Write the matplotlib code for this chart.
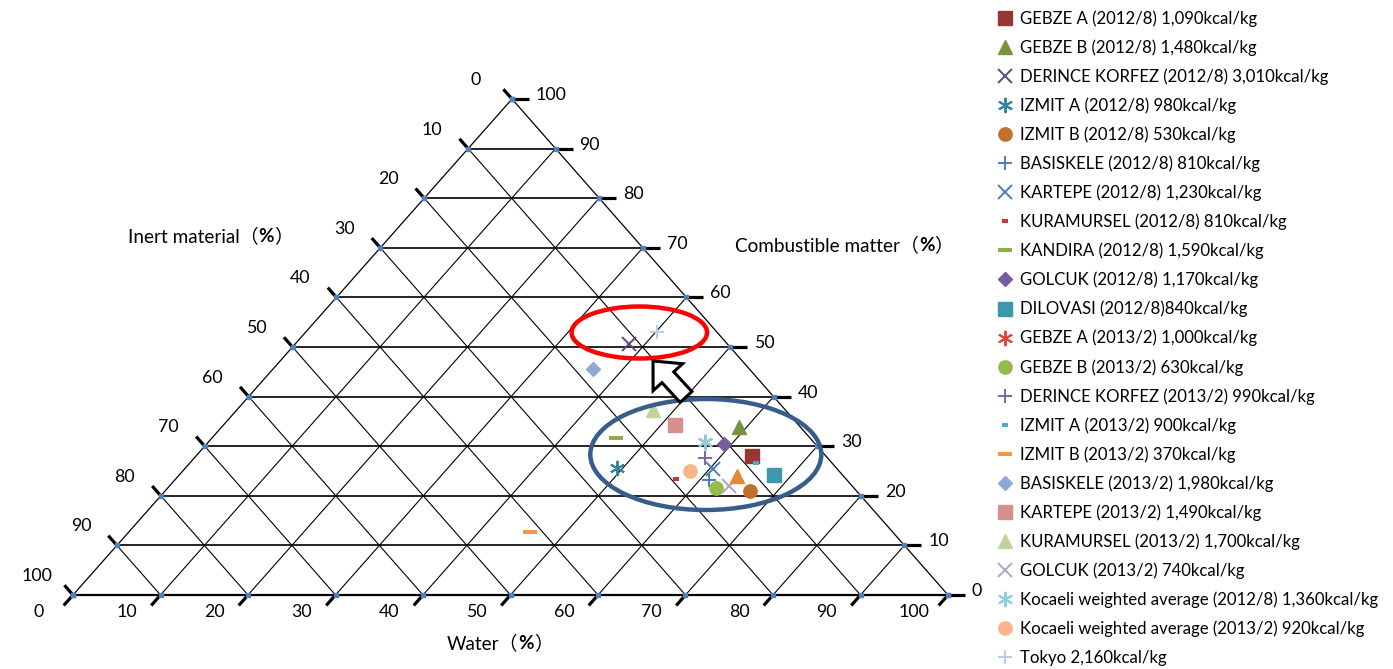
import matplotlib
matplotlib.use('Agg')
import matplotlib.pyplot as plt
from matplotlib.patches import Ellipse, FancyArrow
import numpy as np

plt.rcParams['font.family'] = ['Lato', 'Noto Sans CJK JP', 'DejaVu Sans']

# ---------------- data (percent) ----------------
series_labels = [
    'GEBZE A (2012/8) 1,090kcal/kg',
    'GEBZE B (2012/8) 1,480kcal/kg',
    'DERINCE KORFEZ (2012/8) 3,010kcal/kg',
    'IZMIT A (2012/8) 980kcal/kg',
    'IZMIT B (2012/8) 530kcal/kg',
    'BASISKELE (2012/8) 810kcal/kg',
    'KARTEPE (2012/8) 1,230kcal/kg',
    'KURAMURSEL (2012/8) 810kcal/kg',
    'KANDIRA (2012/8) 1,590kcal/kg',
    'GOLCUK (2012/8) 1,170kcal/kg',
    'DILOVASI (2012/8)840kcal/kg',
    'GEBZE A (2013/2) 1,000kcal/kg',
    'GEBZE B (2013/2) 630kcal/kg',
    'DERINCE KORFEZ (2013/2) 990kcal/kg',
    'IZMIT A (2013/2) 900kcal/kg',
    'IZMIT B (2013/2) 370kcal/kg',
    'BASISKELE (2013/2) 1,980kcal/kg',
    'KARTEPE (2013/2) 1,490kcal/kg',
    'KURAMURSEL (2013/2) 1,700kcal/kg',
    'GOLCUK (2013/2) 740kcal/kg',
    'Kocaeli weighted average (2012/8) 1,360kcal/kg',
    'Kocaeli weighted average (2013/2) 920kcal/kg',
    'Tokyo 2,160kcal/kg',
]
water       = [63.6, 59.2, 38.1, 49.3, 66.8, 61.0, 60.4, 57.2, 46.1, 59.1, 68.0,
               56.7, 62.7, 58.4, 64.7, 45.8, 36.5, 51.6, 47.6, 63.9, 56.7, 58.0, 40.1]
inert       = [ 8.4,  7.0, 11.2, 25.0, 12.2, 15.8, 14.1, 19.4, 22.2, 10.5,  7.9,
               12.4, 15.8, 14.0,  8.6, 41.4, 17.9, 14.1, 15.2, 14.1, 12.4, 17.0,  6.9]
combustible = [28.0, 33.8, 50.7, 25.7, 21.0, 23.2, 25.5, 23.4, 31.7, 30.4, 24.1,
               30.9, 21.5, 27.6, 26.7, 12.8, 45.6, 34.3, 37.2, 22.0, 30.9, 25.0, 53.0]

# extra point without legend entry (orange triangle)
extra_water, extra_inert, extra_combustible = [63.8], [12.2], [24.0]

tick_values = [0, 10, 20, 30, 40, 50, 60, 70, 80, 90, 100]

# ---------------- styles ----------------
AST = (6, 2, 0)
styles = [
    dict(marker='s', color='#953735', ms=9.6),
    dict(marker='^', color='#77933C', ms=9.6),
    dict(marker='x', color='#5F497A', ms=10, mew=1.4),
    dict(marker=AST, color='#31859C', ms=11, mew=1.4),
    dict(marker='o', color='#C0712E', ms=9.6),
    dict(marker='+', color='#4A7EBB', ms=10, mew=1.4),
    dict(marker='x', color='#4A7EBB', ms=10, mew=1.4),
    dict(marker='_', color='#B7403C', ms=5, mew=2.9),
    dict(marker='_', color='#8FAF4E', ms=10, mew=2.9),
    dict(marker='D', color='#7A5C9E', ms=7),
    dict(marker='s', color='#3D98AE', ms=9.6),
    dict(marker=AST, color='#E5413C', ms=11, mew=1.4),
    dict(marker='o', color='#95BB4D', ms=9.6),
    dict(marker='+', color='#8064A2', ms=10, mew=1.4),
    dict(marker='_', color='#4BACC6', ms=5, mew=2.9),
    dict(marker='_', color='#F79646', ms=10, mew=2.9),
    dict(marker='D', color='#8EA9D6', ms=7),
    dict(marker='s', color='#D48F8E', ms=9.6),
    dict(marker='^', color='#BFD49B', ms=9.6),
    dict(marker='x', color='#B3A2C7', ms=10, mew=1.4),
    dict(marker=AST, color='#93CDDD', ms=11, mew=1.4),
    dict(marker='o', color='#F9B48A', ms=9.6),
    dict(marker='+', color='#B9CDE5', ms=10, mew=1.4),
]

W, H = 1393, 669
fig = plt.figure(figsize=(W / 100, H / 100), dpi=100)
ax = fig.add_axes([0, 0, 1, 1])
ax.set_xlim(0, W)
ax.set_ylim(H, 0)
ax.axis('off')

BL = np.array([73.0, 595.0])
BR = np.array([948.0, 595.0])
TOP = np.array([512.0, 99.0])


def proj(w, c):
    w = np.asarray(w, float) / 100.0
    c = np.asarray(c, float) / 100.0
    i = 1.0 - w - c
    x = i * BL[0] + w * BR[0] + c * TOP[0]
    y = i * BL[1] + w * BR[1] + c * TOP[1]
    return x, y


# ---------------- grid ----------------
for k in range(10, 100, 10):
    x, y = proj([0, 100 - k], [k, k])
    ax.plot(x, y, color='black', lw=1.2, zorder=1)
    x, y = proj([k, k], [0, 100 - k])
    ax.plot(x, y, color='black', lw=0.8, zorder=1)
    x, y = proj([100 - k, 0], [0, 100 - k])
    ax.plot(x, y, color='black', lw=0.8, zorder=1)

x, y = proj([0, 100], [0, 0])
ax.plot(x, y, color='black', lw=1.6, zorder=1)
x, y = proj([0, 0], [0, 100])
ax.plot(x, y, color='black', lw=0.9, zorder=1)
x, y = proj([100, 0], [0, 100])
ax.plot(x, y, color='black', lw=0.9, zorder=1)

d_left = (TOP - BR) / np.linalg.norm(TOP - BR)
d_bot = (BL - TOP) / np.linalg.norm(BL - TOP)
tick_kw = dict(color='black', lw=2.3, solid_capstyle='butt', zorder=2)
lab_kw = dict(fontsize=12.8, color='black')
dot_kw = dict(marker='s', ms=2.5, color='#4F81BD', mec='#4F81BD', zorder=3)
for v in tick_values:
    px, py = proj(0, 100 - v)
    ax.plot([px, px + 13 * d_left[0]], [py, py + 13 * d_left[1]], **tick_kw)
    ax.plot(px, py, **dot_kw)
    ax.text(px - 36, py - 19, str(v), ha='center', va='center', **lab_kw)
    px, py = proj(v, 0)
    ax.plot([px, px + 14 * d_bot[0]], [py, py + 14 * d_bot[1]], **tick_kw)
    ax.plot(px, py, **dot_kw)
    ax.text(px - 34, py + 17, str(v), ha='center', va='center', **lab_kw)
    px, py = proj(100 - v, v)
    ax.plot([px, px + 17], [py, py], **tick_kw)
    ax.plot(px, py, **dot_kw)
    ax.text(px + 24, py - 4, str(v), ha='left', va='center', **lab_kw)


def title(x, y, name, fs=13.6):
    t1 = ax.text(x, y, name + '（', ha='left', va='center', fontsize=fs)
    t2 = ax.annotate('%', xy=(1, 0), xycoords=t1, ha='left', va='bottom',
                     fontsize=fs, fontweight='bold')
    ax.annotate('）', xy=(1, 0), xycoords=t2, ha='left', va='bottom', fontsize=fs)


title(128, 236, 'Inert material')
title(735, 245, 'Combustible matter')
title(447, 643, 'Water')

# ---------------- data points ----------------
handles = []
for lab, w, c, st in zip(series_labels, water, combustible, styles):
    x, y = proj([w], [c])
    st = dict(st)
    color = st.pop('color')
    h, = ax.plot(x, y, ls='none', color=color, mec=color, mfc=color,
                 label=lab, zorder=5, **st)
    handles.append(h)

ex, ey = proj(extra_water, extra_combustible)
ax.plot(ex, ey, ls='none', marker='^', ms=9.6, color='#E6883A', zorder=5,
        label='_nolegend_')

# ---------------- annotations ----------------
ax.add_patch(Ellipse((639.3, 332.5), 135.5, 52, fill=False, ec='#FF0000', lw=3.2, zorder=6))
ax.add_patch(Ellipse((705.8, 454.5), 231, 111, fill=False, ec='#385D8A', lw=3.2, zorder=6))
ax.add_patch(FancyArrow(686, 397, -33, -36, width=16, head_width=40, head_length=22,
                        length_includes_head=True, fc='white', ec='black', lw=2.2,
                        zorder=6))

ax.legend(handles=handles, loc='upper left', bbox_to_anchor=(995 / W, 1 - 10 / H),
          frameon=False, fontsize=12.1, labelspacing=0.745, handlelength=1.2,
          handletextpad=0.3, borderpad=0, borderaxespad=0, numpoints=1)

fig.savefig('out.png', dpi=100)
